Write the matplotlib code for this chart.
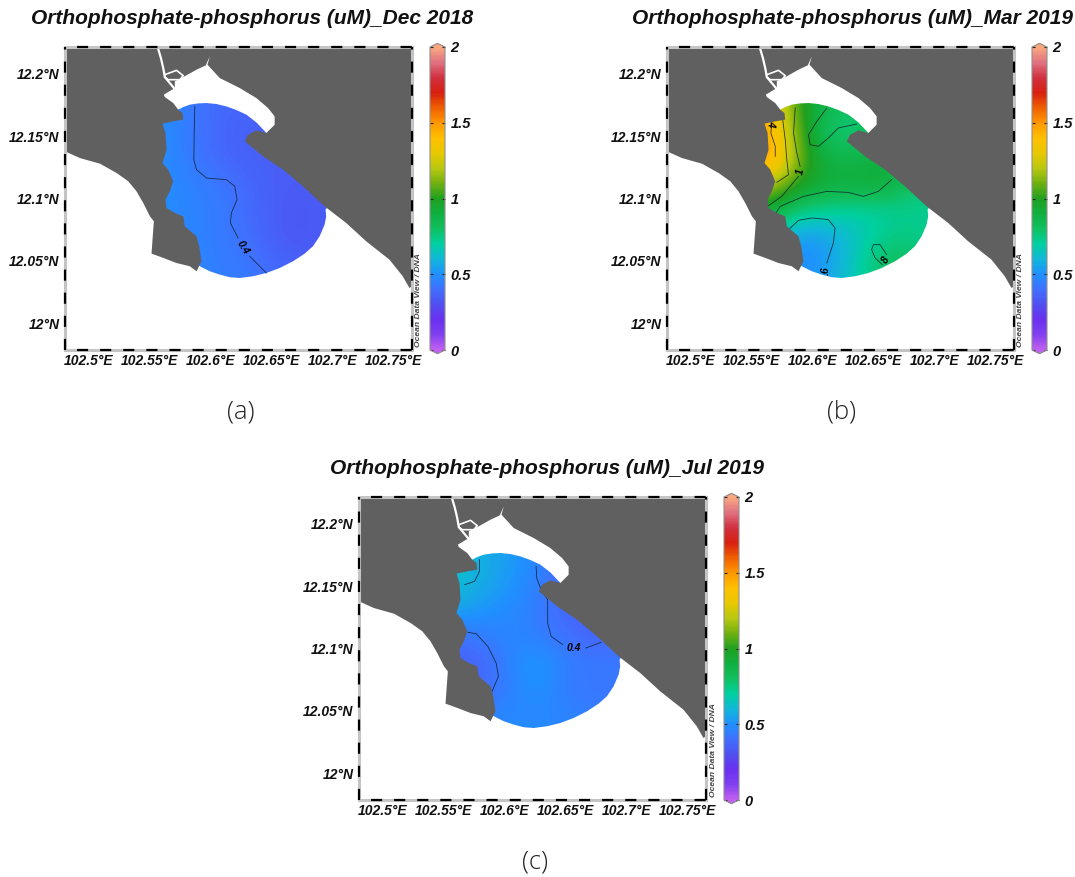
import numpy as np
import matplotlib
matplotlib.use("Agg")
import matplotlib.pyplot as plt
from matplotlib.colors import LinearSegmentedColormap, Normalize
from matplotlib.cm import ScalarMappable
from matplotlib.patches import Polygon

W, H = 1075, 877

# map coastline, lon/lat
land = [(102.4803, 12.2214), (102.4803, 12.1378), (102.4926, 12.1324), (102.509, 12.1279), (102.5227, 12.1204),
        (102.5322, 12.1138), (102.539, 12.1057), (102.5445, 12.0964), (102.55, 12.0857), (102.5532, 12.0817),
        (102.5527, 12.075), (102.5521, 12.067), (102.5513, 12.0558), (102.5609, 12.0524), (102.5718, 12.0483),
        (102.5827, 12.0457), (102.5882, 12.0417), (102.5923, 12.0497), (102.5904, 12.0617), (102.5882, 12.0697),
        (102.5786, 12.0777), (102.5773, 12.0857), (102.5704, 12.0884), (102.5636, 12.0924), (102.5628, 12.0991),
        (102.5663, 12.1057), (102.5691, 12.1138), (102.565, 12.1231), (102.5603, 12.1284), (102.5636, 12.1391),
        (102.5628, 12.1525), (102.5603, 12.16), (102.5691, 12.1618), (102.5773, 12.1632), (102.5767, 12.1685),
        (102.5732, 12.1712), (102.5691, 12.1765), (102.5622, 12.1813), (102.5614, 12.1832), (102.5704, 12.1885),
        (102.5704, 12.1939), (102.5759, 12.1965), (102.5882, 12.2032), (102.5958, 12.2067), (102.5991, 12.2139),
        (102.5972, 12.2072), (102.6073, 12.1965), (102.6237, 12.1885), (102.6373, 12.1805), (102.6469, 12.1725),
        (102.6523, 12.1658), (102.6523, 12.1591), (102.6455, 12.1525), (102.6373, 12.1546), (102.6305, 12.1511),
        (102.6278, 12.1458), (102.6428, 12.1338), (102.6592, 12.1231), (102.6755, 12.1098), (102.6933, 12.0937),
        (102.711, 12.0804), (102.7274, 12.0657), (102.7465, 12.051), (102.7574, 12.0377), (102.7629, 12.0283),
        (102.765, 12.0297), (102.765, 12.2214)]
river1 = [(102.5568, 12.2198), (102.559, 12.2125), (102.5609, 12.2045), (102.5622, 12.1973), (102.5663, 12.1925), (102.5704, 12.1877)]
river2 = [(102.5622, 12.1992), (102.5718, 12.2027), (102.5773, 12.1984), (102.5745, 12.1952), (102.565, 12.1952), (102.5622, 12.1973)]

# outline of the gridded field (the land hides the part under it)
field_edge = [(102.5732, 12.1712), (102.5773, 12.1733), (102.5827, 12.1752), (102.5895, 12.1762), (102.5964, 12.1765),
              (102.6046, 12.1757), (102.6127, 12.1738), (102.6209, 12.1709), (102.6291, 12.1672), (102.6373, 12.161),
              (102.6455, 12.1525), (102.6592, 12.1471), (102.7001, 12.0991), (102.6941, 12.0911), (102.6946, 12.0857),
              (102.6933, 12.0791), (102.6892, 12.0697), (102.6837, 12.0617), (102.6769, 12.0558), (102.6674, 12.0497),
              (102.6564, 12.0443), (102.6455, 12.0403), (102.6346, 12.0377), (102.6237, 12.0363), (102.6155, 12.0369),
              (102.6073, 12.039), (102.5991, 12.0417), (102.5909, 12.0457), (102.5882, 12.0483), (102.58, 12.059),
              (102.5582, 12.0724), (102.5582, 12.0991), (102.5554, 12.1525), (102.5582, 12.1672)]

grid_lon = [102.55, 102.57, 102.59, 102.61, 102.63, 102.65, 102.67, 102.69, 102.71]
grid_lat = [12.19, 12.17, 12.15, 12.13, 12.11, 12.09, 12.07, 12.05, 12.03]

dec_2018 = [[.50, .47, .41, .38, .37, .37, .37, .37, .37],
            [.50, .47, .41, .38, .37, .37, .37, .37, .37],
            [.50, .47, .41, .37, .35, .35, .35, .36, .36],
            [.50, .47, .42, .38, .36, .35, .35, .35, .35],
            [.50, .48, .45, .42, .38, .35, .34, .34, .34],
            [.50, .48, .46, .43, .39, .35, .33, .34, .35],
            [.50, .48, .46, .43, .40, .35, .33, .34, .35],
            [.50, .48, .46, .44, .42, .38, .35, .35, .35],
            [.50, .48, .46, .45, .43, .40, .37, .36, .36]]
mar_2019 = [[1.5, 1.3, 1.0, .88, .82, .85, .85, .85, .85],
            [1.5, 1.35, 1.0, .85, .77, .83, .85, .85, .85],
            [1.55, 1.4, 1.05, .80, .75, .84, .90, .90, .90],
            [1.55, 1.42, 1.08, .90, .88, .90, .92, .90, .85],
            [1.2, 1.15, .98, .92, .90, .93, .85, .78, .75],
            [.95, .88, .75, .72, .70, .70, .72, .72, .72],
            [.70, .65, .52, .55, .62, .70, .75, .74, .72],
            [.60, .55, .48, .52, .63, .78, .82, .76, .73],
            [.60, .55, .50, .55, .65, .75, .82, .78, .75]]
jul_2019 = [[.65, .60, .56, .52, .46, .36, .35, .35, .35],
            [.65, .60, .56, .52, .46, .37, .35, .35, .35],
            [.64, .59, .55, .50, .44, .36, .35, .35, .35],
            [.56, .54, .50, .48, .43, .38, .36, .36, .36],
            [.40, .42, .46, .47, .44, .40, .37, .37, .37],
            [.36, .36, .40, .50, .52, .45, .43, .43, .43],
            [.36, .37, .40, .48, .51, .44, .42, .42, .42],
            [.42, .44, .46, .48, .48, .46, .44, .44, .44],
            [.46, .47, .48, .49, .49, .47, .46, .46, .46]]

# contour lines
dec_lines = [[(102.5868, 12.1738), (102.5863, 12.1525), (102.586, 12.1311), (102.5882, 12.1231), (102.5964, 12.1164),
              (102.6127, 12.1151), (102.6196, 12.1098), (102.6215, 12.0991), (102.6168, 12.0884), (102.616, 12.0804),
              (102.6223, 12.0684)],
             [(102.6319, 12.0537), (102.6455, 12.0403)]]
mar_lines = [[(102.5663, 12.16), (102.5655, 12.1525), (102.5691, 12.1418), (102.5691, 12.1338)],
             [(102.5753, 12.1626), (102.5773, 12.1471), (102.5786, 12.1311), (102.58, 12.1191), (102.5704, 12.113)],
             [(102.5855, 12.1725), (102.5841, 12.1525), (102.5868, 12.1365), (102.5895, 12.1258)],
             [(102.5882, 12.1178), (102.5745, 12.1017), (102.5636, 12.0943)],
             [(102.5677, 12.0857), (102.5732, 12.0937), (102.5923, 12.1017), (102.6114, 12.1057), (102.6291, 12.1049),
              (102.6414, 12.1017), (102.6537, 12.1057), (102.6646, 12.1151)],
             [(102.6114, 12.1725), (102.6032, 12.1618), (102.5964, 12.1511), (102.5977, 12.1431), (102.6046, 12.1418),
              (102.6127, 12.1485), (102.6209, 12.1565), (102.6359, 12.1597)],
             [(102.5786, 12.0737), (102.5882, 12.0825), (102.5991, 12.0844), (102.6127, 12.0831), (102.6182, 12.0764),
              (102.6168, 12.0644), (102.6114, 12.0483)],
             [(102.657, 12.047), (102.651, 12.0524), (102.6482, 12.059), (102.6496, 12.063), (102.6551, 12.063), (102.6605, 12.055)]]
jul_lines = [[(102.5792, 12.1712), (102.5792, 12.1618), (102.5751, 12.1538), (102.5669, 12.1511)],
             [(102.6256, 12.1658), (102.6261, 12.1565), (102.6297, 12.1471), (102.6351, 12.1391), (102.6351, 12.1204),
              (102.6379, 12.1098), (102.6474, 12.1031)],
             [(102.6665, 12.1004), (102.6788, 12.1049)],
             [(102.5696, 12.113), (102.5764, 12.1119), (102.586, 12.1017), (102.5928, 12.0884), (102.5947, 12.0777), (102.5895, 12.0657)]]

dec_labels = [("0.4", 102.6264, 12.0604, -58)]
mar_labels = [("4", 102.5655, 12.1605, -95), ("1", 102.5895, 12.1218, 80), (".6", 102.6105, 12.0425, 90), ("8", 102.6595, 12.0505, 60)]
jul_labels = [("0.4", 102.6565, 12.1004, 0)]

titles = ["Orthophosphate-phosphorus (uM)_Dec 2018", "Orthophosphate-phosphorus (uM)_Mar 2019", "Orthophosphate-phosphorus (uM)_Jul 2019"]
captions = ["(a)", "(b)", "(c)"]
lon_ticks = [102.5, 102.55, 102.6, 102.65, 102.7, 102.75]
lon_labels = ["102.5°E", "102.55°E", "102.6°E", "102.65°E", "102.7°E", "102.75°E"]
lat_ticks = [12.0, 12.05, 12.1, 12.15, 12.2]
lat_labels = ["12°N", "12.05°N", "12.1°N", "12.15°N", "12.2°N"]
cbar_ticks = [0, 0.5, 1, 1.5, 2]
cbar_labels = ["0", "0.5", "1", "1.5", "2"]

cmap_stops = ["#c060f0", "#8040f0", "#6a30f0", "#5050f0", "#4070ff", "#2090ff", "#10b8d8", "#00d0a0", "#10c060", "#10b040",
              "#20a020", "#70b010", "#b8c810", "#e8c800", "#ffc000", "#ff9800", "#f06000", "#d82010", "#d03040", "#e07080", "#f8a880"]
odv = LinearSegmentedColormap.from_list("odv", cmap_stops, N=256)
norm = Normalize(0, 2)

FONT = "Liberation Sans"


def to_xy(pts):
    return [p[0] for p in pts], [p[1] for p in pts]


def draw_panel(fig, left, top, values, lines, labels, title, title_x, caption, cap_x, cap_y):
    right, bottom = left + 347, top + 303
    ax = fig.add_axes([left / W, 1 - bottom / H, (right - left) / W, (bottom - top) / H])

    lons, lats = np.array(grid_lon), np.array(grid_lat)
    im = ax.imshow(np.array(values)[::-1], cmap=odv, norm=norm, interpolation="bicubic", origin="lower", aspect="auto",
                   extent=[lons[0] - 0.01, lons[-1] + 0.01, lats[-1] - 0.01, lats[0] + 0.01], zorder=1)
    im.set_clip_path(Polygon(field_edge, closed=True, transform=ax.transData))

    for ln in lines:
        x, y = to_xy(ln)
        ax.plot(x, y, color="#10202a", lw=0.6, alpha=0.85, solid_joinstyle="round", zorder=1.5)
    for txt, x, y, rot in labels:
        ax.text(x, y, txt, rotation=rot, ha="center", va="center", fontsize=7.5, family=FONT, weight="bold", style="italic", zorder=1.6)

    ax.add_patch(Polygon(land, closed=True, facecolor="#606060", edgecolor="none", zorder=2))
    for r, lw in ((river1, 1.6), (river2, 1.2)):
        x, y = to_xy(r)
        ax.plot(x, y, color="white", lw=lw, zorder=3)

    ax.set_xlim(102.4803, 102.765)
    ax.set_ylim(11.9786, 12.2214)
    ax.set_xticks(lon_ticks, lon_labels)
    ax.set_yticks(lat_ticks, lat_labels)
    ax.tick_params(length=0, labelsize=10)
    ax.tick_params(axis="x", pad=3)
    ax.tick_params(axis="y", pad=4)
    for lab in ax.get_xticklabels() + ax.get_yticklabels():
        lab.set_family(FONT)
        lab.set_weight("bold")
        lab.set_style("italic")
        lab.set_color("#111111")

    # grey frame with the black dashes on top
    for sp in ax.spines.values():
        sp.set_color("#c4c4c4")
        sp.set_linewidth(2.2)
        sp.set_zorder(4)
    dash = (0, (5.0, 5.4))
    ax.plot([0, 1], [1, 1], transform=ax.transAxes, color="black", lw=1.6, ls=(5, (5.0, 5.4)), clip_on=False, zorder=5)
    ax.plot([0, 1], [0, 0], transform=ax.transAxes, color="black", lw=1.6, ls=(5, (5.0, 5.4)), clip_on=False, zorder=5)
    ax.plot([0, 0], [0, 1], transform=ax.transAxes, color="black", lw=1.6, ls=dash, clip_on=False, zorder=5)
    ax.plot([1, 1], [0, 1], transform=ax.transAxes, color="black", lw=1.6, ls=dash, clip_on=False, zorder=5)

    fig.text(title_x / W, 1 - (top - 29) / H, title, ha="center", va="center", fontsize=15, family=FONT, weight="bold", style="italic", color="#111111")
    fig.text((right + 7) / W, 1 - (bottom - 3) / H, "Ocean Data View / DNA", rotation=90, ha="center", va="bottom", fontsize=6.1,
             family=FONT, style="italic", weight="bold", color="#444444")
    fig.text(cap_x / W, 1 - cap_y / H, caption, ha="center", va="center", fontsize=18.5, family="Open Sans", weight="light", color="#222222")

    # colour bar, axes a bit taller because the end tips are drawn inside it
    tip = 0.012 * (bottom - top)
    cax = fig.add_axes([(right + 18) / W, 1 - (bottom + tip) / H, 15 / W, (bottom - top + 2 * tip) / H])
    cb = fig.colorbar(ScalarMappable(norm=norm, cmap=odv), cax=cax, extend="both", extendfrac=0.012, extendrect=False,
                      drawedges=False)
    cb.outline.set_edgecolor("#909090")
    cb.outline.set_linewidth(0.8)
    cb.set_ticks(cbar_ticks, labels=cbar_labels)
    cax.tick_params(which="both", direction="in", length=2.5, width=0.8, left=True, right=True, pad=4, labelsize=10.5, color="#222222")
    cax.minorticks_off()
    for lab in cax.get_yticklabels():
        lab.set_family(FONT)
        lab.set_weight("bold")
        lab.set_style("italic")
        lab.set_color("#111111")
    return ax


fig = plt.figure(figsize=(W / 100, H / 100), dpi=100, facecolor="white")
draw_panel(fig, 65, 47, dec_2018, dec_lines, dec_labels, titles[0], 252, captions[0], 241, 412)
draw_panel(fig, 667, 47, mar_2019, mar_lines, mar_labels, titles[1], 853, captions[1], 842, 412)
draw_panel(fig, 359, 497, jul_2019, jul_lines, jul_labels, titles[2], 547, captions[2], 535, 862)
fig.savefig("out.png", dpi=100)
